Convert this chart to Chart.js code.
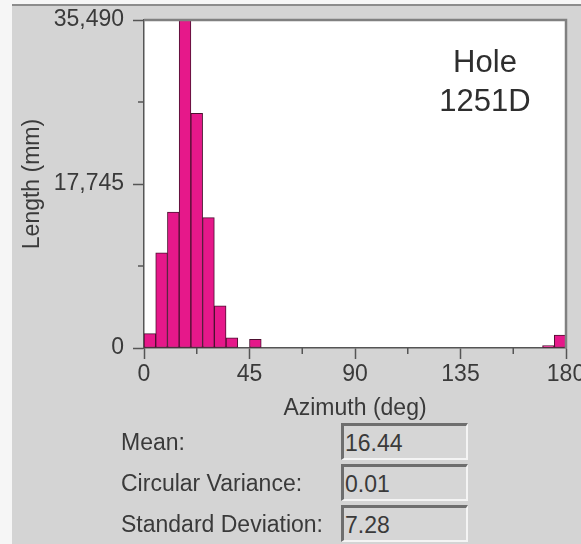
<!DOCTYPE html>
<html>
<head>
<meta charset="utf-8">
<title>Hole 1251D azimuth</title>
<script src="https://cdn.jsdelivr.net/npm/chart.js@4.4.1/dist/chart.umd.min.js"></script>
<style>
  html, body { margin: 0; padding: 0; background: #f6f6f6; }
  #wrap { position: relative; width: 581px; height: 544px; overflow: hidden; }
  #panel { position: absolute; left: 12px; top: 4px; right: 0; bottom: 0; background: #d4d4d4; border-top: 2px solid #8c8c8c; }
  #chartContainer { position: absolute; left: 0; top: 0; }
  .lbl { position: absolute; left: 121px; height: 31px; padding-top: 6px; line-height: 37px; font: 23px 'Liberation Sans', Arial, sans-serif; color: #3a3a3a; }
  .box { position: absolute; left: 341px; width: 121px; height: 28px; padding-top: 4px; line-height: 28px; padding-left: 1px;
         border-top: 3px solid #6e6e6e; border-left: 3px solid #6e6e6e; border-right: 2px solid #f4f4f4; border-bottom: 2px solid #f4f4f4;
         font: 23px 'Liberation Sans', Arial, sans-serif; color: #3a3a3a; background: #d6d6d6; }
</style>
</head>
<body>
<div id="wrap">
  <div id="panel"></div>
  <canvas id="chartContainer" width="581" height="544"></canvas>
  <div id="stats"></div>
</div>
<script>
"use strict";

// 1: data (5 degree azimuth bins)
const binCenters = [2.5, 7.5, 12.5, 17.5, 22.5, 27.5, 32.5, 37.5, 42.5, 47.5,
  52.5, 57.5, 62.5, 67.5, 72.5, 77.5, 82.5, 87.5, 92.5, 97.5,
  102.5, 107.5, 112.5, 117.5, 122.5, 127.5, 132.5, 137.5, 142.5, 147.5,
  152.5, 157.5, 162.5, 167.5, 172.5, 177.5];
const lengths = [1550, 10300, 14700, 35490, 25400, 14100, 4550, 1100, 0, 950,
  0, 0, 0, 0, 0, 0, 0, 0, 0, 0,
  0, 0, 0, 0, 0, 0, 0, 0, 0, 0,
  0, 0, 0, 0, 250, 1400];

const xTicks = [0, 45, 90, 135, 180];
const xMinorTicks = [22.5, 67.5, 112.5, 157.5];
const yTicks = [0, 17745, 35490];
const yMinorTicks = [8872.5, 26617.5];

const holeLabel = ['Hole', '1251D'];
const statNames = ['Mean:', 'Circular Variance:', 'Standard Deviation:'];
const statValues = ['16.44', '0.01', '7.28'];

const FONT = "'Liberation Sans', Arial, sans-serif";
const AXIS = '#555';
const TEXT = '#3a3a3a';

// 2: stats panel under the chart
function appendStats() {
  let stats = document.getElementById('stats');
  statNames.forEach((name, i) => {
    let top = 423 + i * 41;
    let lbl = document.createElement('div');
    lbl.className = 'lbl';
    lbl.style.top = top + 'px';
    lbl.textContent = name;
    let box = document.createElement('div');
    box.className = 'box';
    box.style.top = top + 'px';
    box.textContent = statValues[i];
    stats.appendChild(lbl);
    stats.appendChild(box);
  });
}

// 3: plot frame, minor ticks and the hole label
const framePlugin = {
  id: 'frame',
  beforeDraw(chart) {
    const {ctx, chartArea: a} = chart;
    ctx.save();
    ctx.fillStyle = '#ffffff';
    ctx.fillRect(a.left, a.top, a.right - a.left, a.bottom - a.top);
    ctx.restore();
  },
  afterDraw(chart) {
    const {ctx, chartArea: a, scales} = chart;
    ctx.save();
    ctx.strokeStyle = '#808080';
    ctx.lineWidth = 2.5;
    ctx.beginPath();
    ctx.moveTo(a.left, a.top);
    ctx.lineTo(a.right, a.top);
    ctx.lineTo(a.right, a.bottom);
    ctx.stroke();

    ctx.strokeStyle = AXIS;
    ctx.lineWidth = 1.5;
    ctx.beginPath();
    for (const v of xMinorTicks) {
      const px = scales.x.getPixelForValue(v);
      ctx.moveTo(px, a.bottom);
      ctx.lineTo(px, a.bottom + 6);
    }
    for (const v of yMinorTicks) {
      const py = scales.y.getPixelForValue(v);
      ctx.moveTo(a.left - 6, py);
      ctx.lineTo(a.left, py);
    }
    ctx.stroke();

    ctx.fillStyle = '#2e2e2e';
    ctx.font = '31px ' + FONT;
    ctx.textAlign = 'center';
    ctx.textBaseline = 'middle';
    holeLabel.forEach((t, i) => ctx.fillText(t, a.right - 81, a.top + 43 + i * 39));
    ctx.restore();
  }
};

// 4: create the chart
function appendChart() {
  let chartContainer = document.getElementById('chartContainer');
  let chart = new Chart(chartContainer, {
    type: 'bar',
    data: {
      datasets: [{
        data: binCenters.map((x, i) => ({x: x, y: lengths[i]})),
        backgroundColor: '#e6188a',
        borderColor: '#4d1030',
        borderWidth: 1,
        borderSkipped: false,
        barPercentage: 1,
        categoryPercentage: 1
      }]
    },
    options: {
      responsive: false,
      animation: false,
      layout: { padding: { top: 20, right: 15, bottom: 122, left: 0 } },
      plugins: { legend: { display: false }, tooltip: { enabled: false } },
      scales: {
        x: {
          type: 'linear',
          min: 0,
          max: 180,
          offset: false,
          afterBuildTicks: s => { s.ticks = xTicks.map(v => ({value: v})); },
          afterFit: s => { s.height = 74; s.paddingLeft = 0; s.paddingRight = 0; },
          grid: { offset: false, drawOnChartArea: false, drawTicks: true, tickLength: 11, tickColor: AXIS, tickWidth: 1.5 },
          border: { color: AXIS, width: 1.5 },
          ticks: { padding: 2, color: TEXT, font: { family: FONT, size: 23 }, maxRotation: 0, autoSkip: false },
          title: { display: true, text: 'Azimuth (deg)', color: TEXT, font: { family: FONT, size: 23 }, padding: 0 }
        },
        y: {
          min: 0,
          max: 35490,
          afterBuildTicks: s => { s.ticks = yTicks.map(v => ({value: v})); },
          afterFit: s => { s.width = 144; s.paddingTop = 0; s.paddingBottom = 0; },
          grid: { drawOnChartArea: false, drawTicks: true, tickLength: 11, tickColor: AXIS, tickWidth: 1.5 },
          border: { color: AXIS, width: 1.5 },
          ticks: { padding: 9, color: TEXT, font: { family: FONT, size: 23 },
                   callback: v => v.toLocaleString('en-US') },
          title: { display: true, text: 'Length (mm)', color: TEXT, font: { family: FONT, size: 23 }, padding: { top: 19, bottom: 0 } }
        }
      }
    },
    plugins: [framePlugin]
  });
  return chart;
}

appendStats();
appendChart();
</script>
</body>
</html>
